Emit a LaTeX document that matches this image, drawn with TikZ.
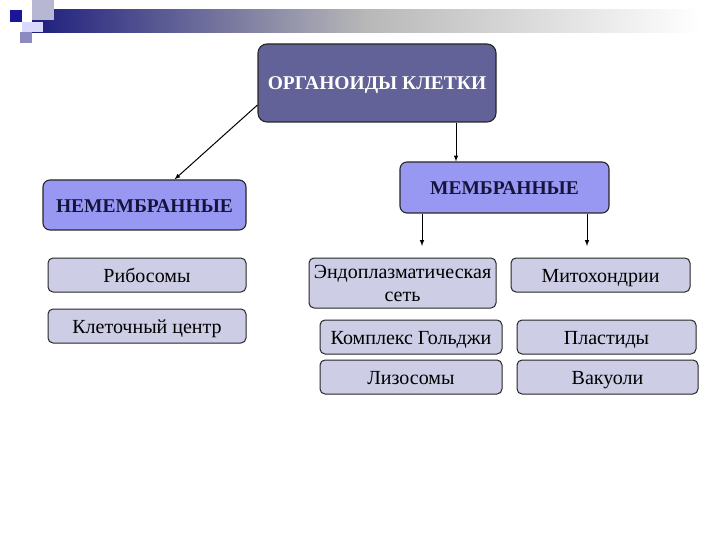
\documentclass[tikz,border=0pt]{standalone}
\usepackage{fontspec}
\setmainfont{Liberation Serif}
\usepackage{tikz}
\usetikzlibrary{calc}

\definecolor{navybar}{RGB}{30,30,125}
\definecolor{topfill}{RGB}{98,98,152}
\definecolor{midfill}{RGB}{152,152,242}
\definecolor{lowfill}{RGB}{205,205,230}
\definecolor{headtext}{RGB}{20,20,60}

\tikzset{
  topbox/.style={draw=black!85, line width=1.1pt, fill=topfill, rounded corners=9pt,
    text=white, font=\fontsize{19.5}{21}\selectfont\bfseries, inner sep=0pt,
    text height=15.5pt, text depth=1.5pt},
  groupbox/.style={draw=black!85, line width=1.1pt, fill=midfill, rounded corners=7pt,
    text=headtext, font=\fontsize{19.5}{21}\selectfont\bfseries, inner sep=0pt,
    text height=15.5pt, text depth=1.5pt},
  itembox/.style={draw=black!85, line width=1pt, fill=lowfill, rounded corners=5pt,
    font=\fontsize{20}{23}\selectfont, inner sep=0pt, align=center},
  onerow/.style={text height=17pt, text depth=1.5pt},
  link/.style={-latex, line width=1pt, black}
}

\begin{document}
\begin{tikzpicture}[x=1pt,y=-1pt]
    \useasboundingbox (0,0) rectangle (720,540);

    % header strip
    \shade[left color=navybar, right color=white, middle color=black!28!white]
      (32,10) rectangle (700,33);
    \fill[blue!15!white] (22,22) rectangle (43,32);
    \fill[blue!25!gray!45!white] (32,0) rectangle (54,20);
    \fill[blue!30!gray!70!white] (20,32) rectangle (32,43);
    \fill[navybar!80!blue] (10,10) rectangle (22,22);

    % boxes
    \node[topbox, minimum width=238pt, minimum height=78pt] (org) at (377,83) {ОРГАНОИДЫ КЛЕТКИ};

    \node[groupbox, minimum width=203pt, minimum height=50pt] (nonmem) at (144.5,205) {НЕМЕМБРАННЫЕ};
    \node[groupbox, minimum width=209pt, minimum height=51pt] (mem) at (504.5,187.5) {МЕМБРАННЫЕ};

    \node[itembox, onerow, minimum width=198pt, minimum height=34pt] (ribo) at (147,275) {Рибосомы};
    \node[itembox, onerow, minimum width=198pt, minimum height=34pt] (centr) at (147,326) {Клеточный центр};

    \node[itembox, minimum width=187pt, minimum height=50pt] (eps) at (402.5,283) {Эндоплазматическая\\сеть};
    \node[itembox, onerow, minimum width=179pt, minimum height=34pt] (mito) at (600.5,275) {Митохондрии};
    \node[itembox, onerow, minimum width=182pt, minimum height=34pt] (golgi) at (411,337) {Комплекс Гольджи};
    \node[itembox, onerow, minimum width=179pt, minimum height=34pt] (plast) at (606.5,337) {Пластиды};
    \node[itembox, onerow, minimum width=182pt, minimum height=34pt] (lizo) at (411,377) {Лизосомы};
    \node[itembox, onerow, minimum width=181pt, minimum height=34pt] (vak) at (607.5,377) {Вакуоли};

    % arrows
    \draw[link] ([yshift=-22pt]org.west) -- ([xshift=30pt]nonmem.north);
    \draw[link] ([xshift=79pt]org.south) -- ([xshift=-48.5pt]mem.north);
    \coordinate (left end) at (422,246);
    \coordinate (right end) at (587,246);
    \draw[link] (mem.south -| left end) -- (left end);
    \draw[link] (mem.south -| right end) -- (right end);
  \end{tikzpicture}
\end{document}
